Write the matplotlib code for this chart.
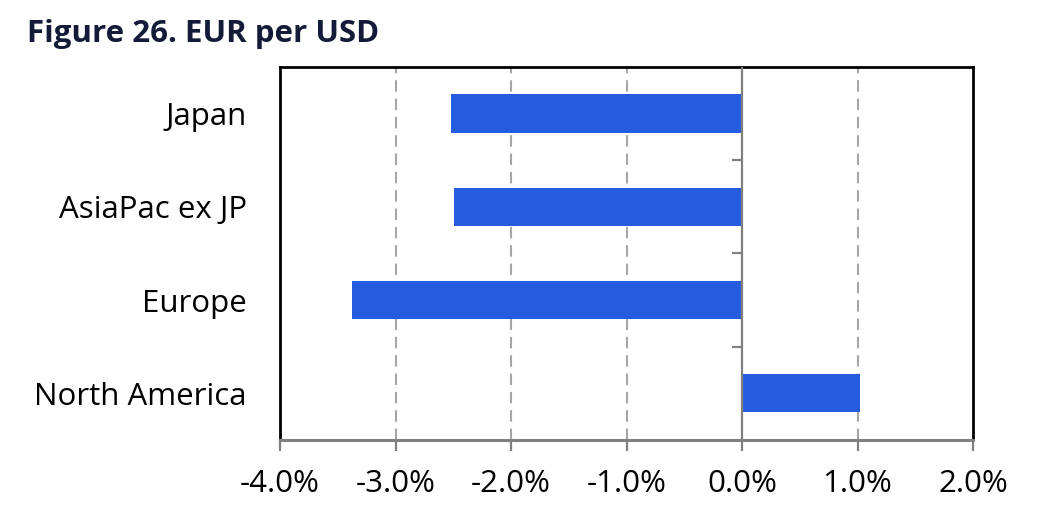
import matplotlib.pyplot as plt
from matplotlib import markers
from matplotlib.ticker import FuncFormatter

# data
regions = ["Japan", "AsiaPac ex JP", "Europe", "North America"]
values = [-2.52, -2.49, -3.38, 1.02]
x_ticks = [-4, -3, -2, -1, 0, 1, 2]

bar_color = "#245BDF"
grid_color = "#A6A6A6"
axis_gray = "#808080"

plt.rcParams['font.family'] = ['Open Sans', 'DejaVu Sans']

fig = plt.figure(figsize=(10.58, 5.11), dpi=100)
ax = fig.add_axes([0.2647, 0.139, 0.655, 0.730])

pos = list(range(len(regions)))
ax.barh(pos, values, height=0.41, color=bar_color, zorder=3)
ax.set_ylim(len(regions) - 0.5, -0.5)
ax.set_xlim(x_ticks[0], x_ticks[-1])

# dashed gridlines
for t in x_ticks[1:-1]:
    if t != 0:
        ax.axvline(t, color=grid_color, linestyle=(0, (5.5, 3.3)), linewidth=1.5, zorder=1)

# zero axis with small ticks at category boundaries
ax.axvline(0, color=axis_gray, linewidth=1.6, zorder=4)
ax.plot([0] * (len(regions) - 1), [p + 0.5 for p in pos[:-1]], linestyle="none",
        marker=markers.TICKLEFT, markersize=7, markeredgewidth=1.6, color=axis_gray, zorder=4)

ax.set_xticks(x_ticks)
ax.xaxis.set_major_formatter(FuncFormatter(lambda v, _: f"{v:.1f}%"))
ax.set_yticks(pos)
ax.set_yticklabels(regions)

ax.tick_params(axis="x", direction="out", length=8, width=1.6, color=axis_gray,
               labelsize=22.5, pad=13, labelcolor="black")
ax.tick_params(axis="y", length=0, labelsize=22.5, pad=24, labelcolor="black")

for side in ["top", "left", "right"]:
    ax.spines[side].set_color("black")
    ax.spines[side].set_linewidth(2)
ax.spines["bottom"].set_color(axis_gray)
ax.spines["bottom"].set_linewidth(2.2)

fig.text(0.0255, 0.933, "Figure 26. EUR per USD", fontsize=22.5, fontweight="bold",
         color="#131B38", ha="left", va="center")

fig.savefig("out.png", dpi=100)
